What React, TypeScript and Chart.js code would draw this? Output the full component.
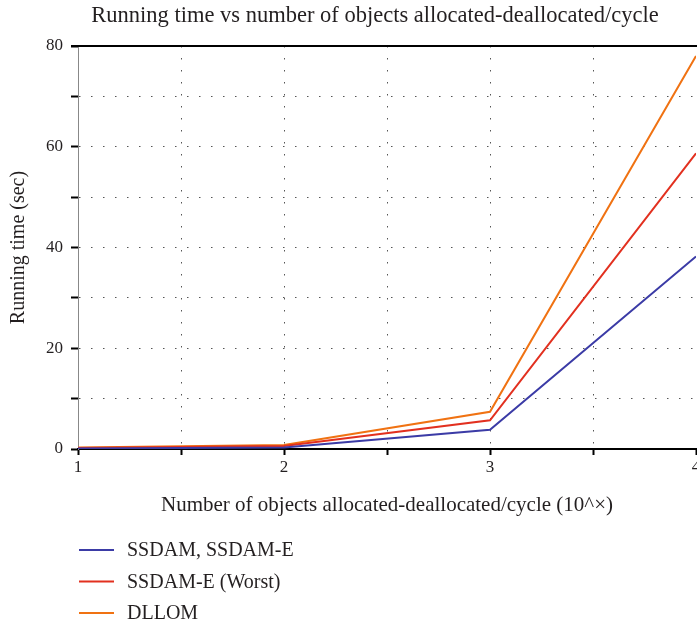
import React, { useEffect, useRef } from "react";
import { Chart, registerables } from "chart.js";

Chart.register(...registerables);

const xValues = [1, 2, 3, 4];
const seriesLabels = ["SSDAM, SSDAM-E", "SSDAM-E (Worst)", "DLLOM"];
const ssdam = [0.1, 0.3, 3.8, 38.2];
const ssdamWorst = [0.2, 0.6, 5.7, 58.7];
const dllom = [0.3, 0.8, 7.4, 78.0];
const seriesColors = ["#3b3ba6", "#e2301f", "#f07212"];

const titleText = "Running time vs number of objects allocated-deallocated/cycle";
const xTitle = "Number of objects allocated-deallocated/cycle (10^\u00d7)";
const yTitle = "Running time (sec)";

const FONT = "'Liberation Serif', 'DejaVu Serif', serif";
const TEXT = "#231f20";

const legendPlugin = {
  id: "customLegend",
  afterDraw(chart: any) {
    const ctx = chart.ctx;
    const ys = [550, 581.5, 613];
    ctx.save();
    chart.data.datasets.forEach((ds: any, i: number) => {
      const y = ys[i];
      ctx.strokeStyle = ds.borderColor;
      ctx.lineWidth = 2;
      ctx.beginPath();
      ctx.moveTo(79, y);
      ctx.lineTo(114, y);
      ctx.stroke();
      ctx.fillStyle = TEXT;
      ctx.font = `20px ${FONT}`;
      ctx.textBaseline = "middle";
      ctx.textAlign = "left";
      ctx.fillText(ds.label, 127, y + 1);
    });
    ctx.restore();
  },
};

const titleAndBorderPlugin = {
  id: "titleAndBorder",
  afterDraw(chart: any) {
    const { ctx, chartArea } = chart;
    ctx.save();
    ctx.strokeStyle = "#000";
    ctx.lineWidth = 2;
    ctx.beginPath();
    ctx.moveTo(chartArea.left - 7, chartArea.top);
    ctx.lineTo(chartArea.right + 2, chartArea.top);
    ctx.stroke();
    ctx.fillStyle = TEXT;
    ctx.font = `22.5px ${FONT}`;
    ctx.textAlign = "center";
    ctx.textBaseline = "middle";
    ctx.fillText(titleText, 375, 16);
    ctx.restore();
  },
};

export default function App() {
  const ref = useRef<HTMLCanvasElement>(null);
  useEffect(() => {
    document.body.style.margin = "0";
    const canvas = ref.current!;
    const chart = new Chart(canvas, {
      type: "line",
      data: {
        datasets: [ssdam, ssdamWorst, dllom].map((vals, i) => ({
          label: seriesLabels[i],
          data: xValues.map((x, j) => ({ x, y: vals[j] })),
          borderColor: seriesColors[i],
          backgroundColor: seriesColors[i],
          borderWidth: 2,
          pointRadius: 0,
          tension: 0,
          fill: false,
        })),
      },
      options: {
        responsive: false,
        animation: false,
        layout: { autoPadding: false, padding: { left: 0, right: 1, top: 46, bottom: 100 } },
        plugins: {
          legend: { display: false },
          tooltip: { enabled: false },
          title: { display: false },
        },
        scales: {
          x: {
            type: "linear",
            min: 1,
            max: 4,
            afterFit: (s: any) => {
              s.height = 75;
              s.paddingRight = 0;
              s.paddingLeft = 0;
            },
            ticks: {
              stepSize: 0.5,
              autoSkip: false,
              maxRotation: 0,
              color: TEXT,
              font: { family: FONT, size: 17 },
              padding: 2,
              callback: (v: any) => (Number.isInteger(v) ? String(v) : ""),
            },
            grid: {
              color: (c: any) =>
                c.tick && (c.tick.value === 1 || c.tick.value === 4) ? "rgba(0,0,0,0)" : "#555",
              lineWidth: 1,
              tickColor: "#000",
              tickLength: 6,
              tickWidth: 2,
            },
            border: { display: true, color: "#000", width: 2, dash: [1.5, 10.5] },
            title: {
              display: true,
              text: xTitle,
              color: TEXT,
              font: { family: FONT, size: 21 },
              padding: { top: 0, bottom: 6.4 },
            },
          },
          y: {
            min: 0,
            max: 80,
            afterFit: (s: any) => {
              s.width = 78;
              s.paddingTop = 0;
              s.paddingBottom = 0;
            },
            ticks: {
              stepSize: 10,
              autoSkip: false,
              color: TEXT,
              font: { family: FONT, size: 17 },
              padding: 8,
              callback: (v: any) => (v % 20 === 0 ? String(v) : ""),
            },
            grid: {
              color: (c: any) =>
                c.tick && (c.tick.value === 0 || c.tick.value === 80) ? "rgba(0,0,0,0)" : "#555",
              lineWidth: 1,
              tickColor: "#000",
              tickLength: 7,
              tickWidth: 2,
            },
            border: { display: true, color: "#888", width: 1, dash: [1.5, 10.5] },
            title: {
              display: true,
              text: yTitle,
              color: TEXT,
              font: { family: FONT, size: 20 },
              padding: { top: 7, bottom: 0 },
            },
          },
        },
      },
      plugins: [titleAndBorderPlugin, legendPlugin],
    });
    return () => chart.destroy();
  }, []);
  return <canvas ref={ref} width={697} height={624} style={{ display: "block" }} />;
}
